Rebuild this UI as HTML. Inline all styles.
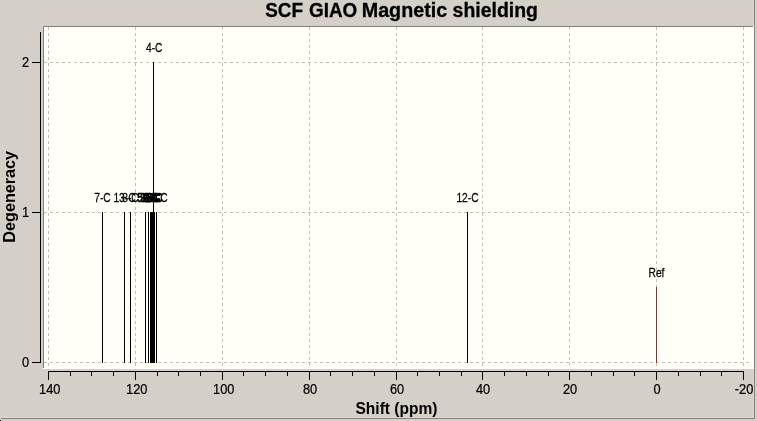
<!DOCTYPE html>
<html><head><meta charset="utf-8"><title>SCF GIAO Magnetic shielding</title>
<style>html,body{margin:0;padding:0;background:#d4d0c8;overflow:hidden}svg{display:block}text{font-family:"Liberation Sans",sans-serif;fill:#000}.b{font-weight:bold;stroke:#000;stroke-width:0.3px}.b2{font-weight:bold}.s{stroke:#000;stroke-width:0.25px}.s2{stroke:#000;stroke-width:0.7px}</style></head><body>
<svg width="757" height="421" viewBox="0 0 757 421">
<rect x="0" y="0" width="757" height="421" fill="#d4d0c8"/>
<g shape-rendering="crispEdges">
<rect x="1" y="418" width="754" height="1" fill="#808080"/>
<rect x="0" y="420" width="1" height="1" fill="#000"/>
<rect x="0" y="417" width="754" height="1" fill="#dcd9d2"/>
<rect x="753" y="0" width="1" height="418" fill="#dcd9d2"/>
<rect x="754" y="0" width="1" height="419" fill="#808080"/>
<rect x="43" y="26" width="711" height="343" fill="#fffff8"/>
<rect x="43" y="26" width="710" height="1" fill="#808080"/>
<rect x="43" y="26" width="1" height="342" fill="#808080"/>
<rect x="43" y="368" width="711" height="1" fill="#ffffff"/>
<rect x="753" y="26" width="1" height="343" fill="#ffffff"/>
<path d="M48.5 27V366" stroke="#c0c0c0" stroke-width="1" stroke-dasharray="3 3" fill="none"/>
<path d="M135.5 27V366" stroke="#c0c0c0" stroke-width="1" stroke-dasharray="3 3" fill="none"/>
<path d="M222.5 27V366" stroke="#c0c0c0" stroke-width="1" stroke-dasharray="3 3" fill="none"/>
<path d="M309.5 27V366" stroke="#c0c0c0" stroke-width="1" stroke-dasharray="3 3" fill="none"/>
<path d="M396.5 27V366" stroke="#c0c0c0" stroke-width="1" stroke-dasharray="3 3" fill="none"/>
<path d="M482.5 27V366" stroke="#c0c0c0" stroke-width="1" stroke-dasharray="3 3" fill="none"/>
<path d="M569.5 27V366" stroke="#c0c0c0" stroke-width="1" stroke-dasharray="3 3" fill="none"/>
<path d="M656.5 27V366" stroke="#c0c0c0" stroke-width="1" stroke-dasharray="3 3" fill="none"/>
<path d="M743.5 27V366" stroke="#c0c0c0" stroke-width="1" stroke-dasharray="3 3" fill="none"/>
<path d="M44 62.5H750" stroke="#c0c0c0" stroke-width="1" stroke-dasharray="3 3" fill="none"/>
<path d="M44 212.5H750" stroke="#c0c0c0" stroke-width="1" stroke-dasharray="3 3" fill="none"/>
<path d="M44 362.5H750" stroke="#c0c0c0" stroke-width="1" stroke-dasharray="3 3" fill="none"/>
<rect x="40" y="32" width="1" height="331" fill="#000"/>
<rect x="32" y="62" width="9" height="1" fill="#000"/>
<rect x="32" y="212" width="9" height="1" fill="#000"/>
<rect x="32" y="362" width="9" height="1" fill="#000"/>
<rect x="48" y="371" width="696" height="1" fill="#000"/>
<rect x="48" y="371" width="1" height="9" fill="#000"/>
<rect x="70" y="371" width="1" height="5" fill="#000"/>
<rect x="91" y="371" width="1" height="5" fill="#000"/>
<rect x="113" y="371" width="1" height="5" fill="#000"/>
<rect x="135" y="371" width="1" height="9" fill="#000"/>
<rect x="157" y="371" width="1" height="5" fill="#000"/>
<rect x="178" y="371" width="1" height="5" fill="#000"/>
<rect x="200" y="371" width="1" height="5" fill="#000"/>
<rect x="222" y="371" width="1" height="9" fill="#000"/>
<rect x="243" y="371" width="1" height="5" fill="#000"/>
<rect x="265" y="371" width="1" height="5" fill="#000"/>
<rect x="287" y="371" width="1" height="5" fill="#000"/>
<rect x="309" y="371" width="1" height="9" fill="#000"/>
<rect x="330" y="371" width="1" height="5" fill="#000"/>
<rect x="352" y="371" width="1" height="5" fill="#000"/>
<rect x="374" y="371" width="1" height="5" fill="#000"/>
<rect x="396" y="371" width="1" height="9" fill="#000"/>
<rect x="417" y="371" width="1" height="5" fill="#000"/>
<rect x="439" y="371" width="1" height="5" fill="#000"/>
<rect x="461" y="371" width="1" height="5" fill="#000"/>
<rect x="482" y="371" width="1" height="9" fill="#000"/>
<rect x="504" y="371" width="1" height="5" fill="#000"/>
<rect x="526" y="371" width="1" height="5" fill="#000"/>
<rect x="548" y="371" width="1" height="5" fill="#000"/>
<rect x="569" y="371" width="1" height="9" fill="#000"/>
<rect x="591" y="371" width="1" height="5" fill="#000"/>
<rect x="613" y="371" width="1" height="5" fill="#000"/>
<rect x="634" y="371" width="1" height="5" fill="#000"/>
<rect x="656" y="371" width="1" height="9" fill="#000"/>
<rect x="678" y="371" width="1" height="5" fill="#000"/>
<rect x="700" y="371" width="1" height="5" fill="#000"/>
<rect x="721" y="371" width="1" height="5" fill="#000"/>
<rect x="743" y="371" width="1" height="9" fill="#000"/>
<rect x="102" y="212" width="1" height="151" fill="#000"/>
<rect x="124" y="212" width="1" height="151" fill="#000"/>
<rect x="130" y="212" width="1" height="151" fill="#000"/>
<rect x="145" y="212" width="1" height="151" fill="#000"/>
<rect x="148" y="212" width="1" height="151" fill="#000"/>
<rect x="156" y="212" width="1" height="151" fill="#000"/>
<rect x="467" y="212" width="1" height="151" fill="#000"/>
<rect x="150" y="212" width="5" height="151" fill="#000"/>
<rect x="153" y="62" width="1" height="151" fill="#000"/>
<rect x="656" y="287" width="1" height="76" fill="#a52a2a"/>
</g>
<g style="filter:grayscale(1)">
<text class="b" transform="translate(265.2,17) scale(0.9636,1)" font-size="19.6">SCF</text>
<text class="b" transform="translate(309.0,17) scale(0.9636,1)" font-size="19.6">GIAO</text>
<text class="b" transform="translate(361.7,17) scale(1.0080,1)" font-size="19.6">Magnetic</text>
<text class="b" transform="translate(452.6,17) scale(0.9920,1)" font-size="19.6">shielding</text>
<text class="b2" transform="translate(396.5,414) scale(0.937,1)" font-size="16.6" text-anchor="middle">Shift (ppm)</text>
<text class="b2" transform="translate(14.5,196.8) rotate(-90) scale(0.975,1)" font-size="16.6" text-anchor="middle">Degeneracy</text>
<text class="s" transform="translate(49.8,394) scale(0.915,1)" font-size="14" text-anchor="middle">140</text>
<text class="s" transform="translate(136.8,394) scale(0.915,1)" font-size="14" text-anchor="middle">120</text>
<text class="s" transform="translate(223.8,394) scale(0.915,1)" font-size="14" text-anchor="middle">100</text>
<text class="s" transform="translate(310.0,394) scale(0.915,1)" font-size="14" text-anchor="middle">80</text>
<text class="s" transform="translate(397.0,394) scale(0.915,1)" font-size="14" text-anchor="middle">60</text>
<text class="s" transform="translate(483.0,394) scale(0.915,1)" font-size="14" text-anchor="middle">40</text>
<text class="s" transform="translate(570.0,394) scale(0.915,1)" font-size="14" text-anchor="middle">20</text>
<text class="s" transform="translate(657.0,394) scale(0.915,1)" font-size="14" text-anchor="middle">0</text>
<text class="s" transform="translate(744.0,394) scale(0.915,1)" font-size="14" text-anchor="middle">-20</text>
<text class="s" transform="translate(29.2,67) scale(0.915,1)" font-size="14" text-anchor="end">2</text>
<text class="s" transform="translate(29.2,217) scale(0.915,1)" font-size="14" text-anchor="end">1</text>
<text class="s" transform="translate(29.2,367) scale(0.915,1)" font-size="14" text-anchor="end">0</text>
<text class="s" transform="translate(154.2,52) scale(0.82,1)" font-size="12.5" text-anchor="middle">4-C</text>
<text class="s" transform="translate(102.5,202) scale(0.82,1)" font-size="12.5" text-anchor="middle">7-C</text>
<text class="s" transform="translate(124.5,202) scale(0.82,1)" font-size="12.5" text-anchor="middle">13-C</text>
<text class="s" transform="translate(130.5,202) scale(0.82,1)" font-size="12.5" text-anchor="middle">8-C</text>
<text class="s2" transform="translate(145.5,202) scale(0.82,1)" font-size="12.5" text-anchor="middle">5-C</text>
<text class="s2" transform="translate(148.5,202) scale(0.82,1)" font-size="12.5" text-anchor="middle">3-C</text>
<text class="s2" transform="translate(150.5,202) scale(0.82,1)" font-size="12.5" text-anchor="middle">2-C</text>
<text class="s2" transform="translate(151.5,202) scale(0.82,1)" font-size="12.5" text-anchor="middle">9-C</text>
<text class="s2" transform="translate(152.5,202) scale(0.82,1)" font-size="12.5" text-anchor="middle">1-C</text>
<text class="s2" transform="translate(154.5,202) scale(0.82,1)" font-size="12.5" text-anchor="middle">6-C</text>
<text class="s" transform="translate(156.5,202) scale(0.82,1)" font-size="12.5" text-anchor="middle">10-C</text>
<text class="s" transform="translate(467.5,202) scale(0.82,1)" font-size="12.5" text-anchor="middle">12-C</text>
<text class="s" transform="translate(656.5,277) scale(0.82,1)" font-size="12.5" text-anchor="middle">Ref</text>
</g>
</svg></body></html>
